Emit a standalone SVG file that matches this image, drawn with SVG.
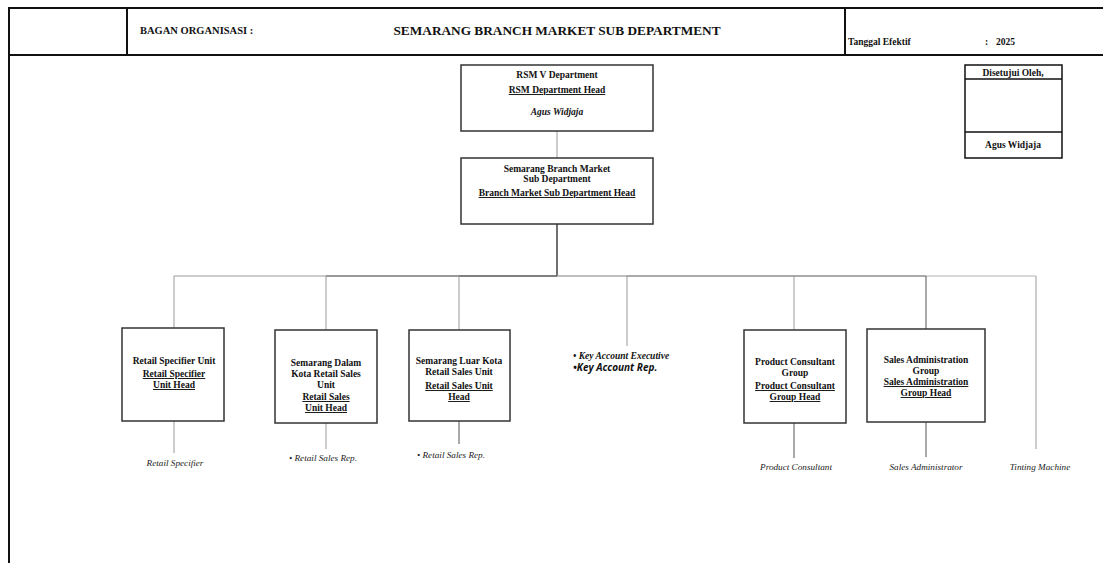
<svg xmlns="http://www.w3.org/2000/svg" width="1103" height="563" viewBox="0 0 1103 563">
<style>
.frame{stroke:#111;stroke-width:2;fill:none}
.box{fill:#fff;stroke:#333;stroke-width:1.5}
.t{font-family:"Liberation Serif",serif;font-weight:bold;font-size:9.5px;fill:#111;text-anchor:middle}
.u{text-decoration:underline}
.it{font-family:"Liberation Serif",serif;font-style:italic;font-size:9.2px;fill:#222;text-anchor:middle}
.c{stroke:#555;stroke-width:1;fill:none}
.cl{stroke:#999;stroke-width:1;fill:none}
</style>
<rect width="1103" height="563" fill="#fff"/>
<g id="header">
<line class="frame" x1="9" y1="8" x2="1103" y2="8"/>
<line class="frame" x1="9" y1="55" x2="1103" y2="55"/>
<line class="frame" x1="9" y1="7" x2="9" y2="563"/>
<line class="frame" x1="127" y1="8" x2="127" y2="55"/>
<line class="frame" x1="845" y1="8" x2="845" y2="55"/>
<text x="140" y="34" font-family="Liberation Serif,serif" font-weight="bold" font-size="10.5" fill="#111">BAGAN ORGANISASI :</text>
<text x="557" y="35" font-family="Liberation Serif,serif" font-weight="bold" font-size="13.3" fill="#111" text-anchor="middle">SEMARANG BRANCH MARKET SUB DEPARTMENT</text>
<text x="848" y="45" font-family="Liberation Serif,serif" font-weight="bold" font-size="9.5" fill="#111">Tanggal Efektif</text>
<text x="985" y="45" font-family="Liberation Serif,serif" font-weight="bold" font-size="9.5" fill="#111">:</text>
<text x="996" y="45" font-family="Liberation Serif,serif" font-weight="bold" font-size="9.5" fill="#111">2025</text>
</g>
<g id="approval">
<rect x="965" y="65" width="97" height="93" fill="#fff" stroke="#111" stroke-width="1.5"/>
<line x1="965" y1="79" x2="1062" y2="79" stroke="#111" stroke-width="1.5"/>
<line x1="965" y1="132" x2="1062" y2="132" stroke="#111" stroke-width="1.5"/>
<text class="t" x="1013" y="76">Disetujui Oleh,</text>
<text class="t" x="1013" y="148">Agus Widjaja</text>
</g>
<g id="connectors">
<line class="cl" x1="557" y1="131" x2="557" y2="158"/>
<line x1="557" y1="224" x2="557" y2="276" stroke="#111" stroke-width="1.2"/>
<line x1="174" y1="276" x2="326" y2="276" stroke="#999" stroke-width="1"/>
<line x1="326" y1="276" x2="459" y2="276" stroke="#777" stroke-width="1.3"/>
<line x1="459" y1="276" x2="557" y2="276" stroke="#555" stroke-width="1.3"/>
<line x1="557" y1="276" x2="627" y2="276" stroke="#aaa" stroke-width="1.3"/>
<line x1="627" y1="276" x2="926" y2="276" stroke="#555" stroke-width="1"/>
<line x1="926" y1="276" x2="1036" y2="276" stroke="#ccc" stroke-width="1.3"/>
<line class="cl" x1="174" y1="276" x2="174" y2="328"/>
<line class="cl" x1="326" y1="276" x2="326" y2="330"/>
<line class="cl" x1="459" y1="276" x2="459" y2="330"/>
<line class="cl" x1="627" y1="276" x2="627" y2="346"/>
<line class="cl" x1="794" y1="276" x2="794" y2="330"/>
<line class="c" x1="926" y1="276" x2="926" y2="329"/>
<line class="cl" x1="1036" y1="276" x2="1036" y2="449"/>
<line class="cl" x1="174" y1="421" x2="174" y2="453"/>
<line class="cl" x1="326" y1="423" x2="326" y2="449"/>
<line class="c" x1="459" y1="421" x2="459" y2="444"/>
<line class="c" x1="794" y1="423" x2="794" y2="458"/>
<line class="c" x1="926" y1="422" x2="926" y2="457"/>
</g>
<g id="rsm">
<rect class="box" x="461" y="65" width="192" height="66"/>
<text class="t" x="557" y="78">RSM V Department</text>
<text class="t u" x="557" y="93">RSM Department Head</text>
<text class="t" x="557" y="115" font-style="italic">Agus Widjaja</text>
</g>
<g id="branch">
<rect class="box" x="461" y="158" width="192" height="66"/>
<text class="t" x="557" y="172">Semarang Branch Market</text>
<text class="t" x="557" y="182">Sub Department</text>
<text class="t u" x="557" y="196">Branch Market Sub Department Head</text>
</g>
<g id="retail-specifier">
<rect class="box" x="122" y="328" width="102" height="93"/>
<text class="t" x="174" y="364">Retail Specifier Unit</text>
<text class="t u" x="174" y="377">Retail Specifier</text>
<text class="t u" x="174" y="388">Unit Head</text>
<text class="it" x="175" y="466">Retail Specifier</text>
</g>
<g id="dalam-kota">
<rect class="box" x="275" y="330" width="102" height="93"/>
<text class="t" x="326" y="366">Semarang Dalam</text>
<text class="t" x="326" y="377">Kota Retail Sales</text>
<text class="t" x="326" y="388">Unit</text>
<text class="t u" x="326" y="400">Retail Sales</text>
<text class="t u" x="326" y="411">Unit Head</text>
<text class="it" x="323" y="461">• Retail Sales Rep.</text>
</g>
<g id="luar-kota">
<rect class="box" x="409" y="330" width="101" height="91"/>
<text class="t" x="459" y="364">Semarang Luar Kota</text>
<text class="t" x="459" y="375">Retail Sales Unit</text>
<text class="t u" x="459" y="389">Retail Sales Unit</text>
<text class="t u" x="459" y="400">Head</text>
<text class="it" x="451" y="458">• Retail Sales Rep.</text>
</g>
<g id="key-account">
<text x="573" y="359" font-family="Liberation Serif,serif" font-weight="bold" font-style="italic" font-size="9.5" fill="#111">• Key Account Executive</text>
<text x="573" y="371" font-family="Open Sans,sans-serif" font-weight="bold" font-style="italic" font-size="10" fill="#111">•Key Account Rep.</text>
</g>
<g id="product-consultant">
<rect class="box" x="744" y="330" width="102" height="93"/>
<text class="t" x="795" y="365">Product Consultant</text>
<text class="t" x="795" y="376">Group</text>
<text class="t u" x="795" y="389">Product Consultant</text>
<text class="t u" x="795" y="400">Group Head</text>
<text class="it" x="796" y="470">Product Consultant</text>
</g>
<g id="sales-admin">
<rect class="box" x="867" y="329" width="118" height="93"/>
<text class="t" x="926" y="363">Sales Administration</text>
<text class="t" x="926" y="374">Group</text>
<text class="t u" x="926" y="385">Sales Administration</text>
<text class="t u" x="926" y="396">Group Head</text>
<text class="it" x="926" y="470">Sales Administrator</text>
</g>
<g id="tinting">
<text class="it" x="1040" y="470">Tinting Machine</text>
</g>
</svg>
